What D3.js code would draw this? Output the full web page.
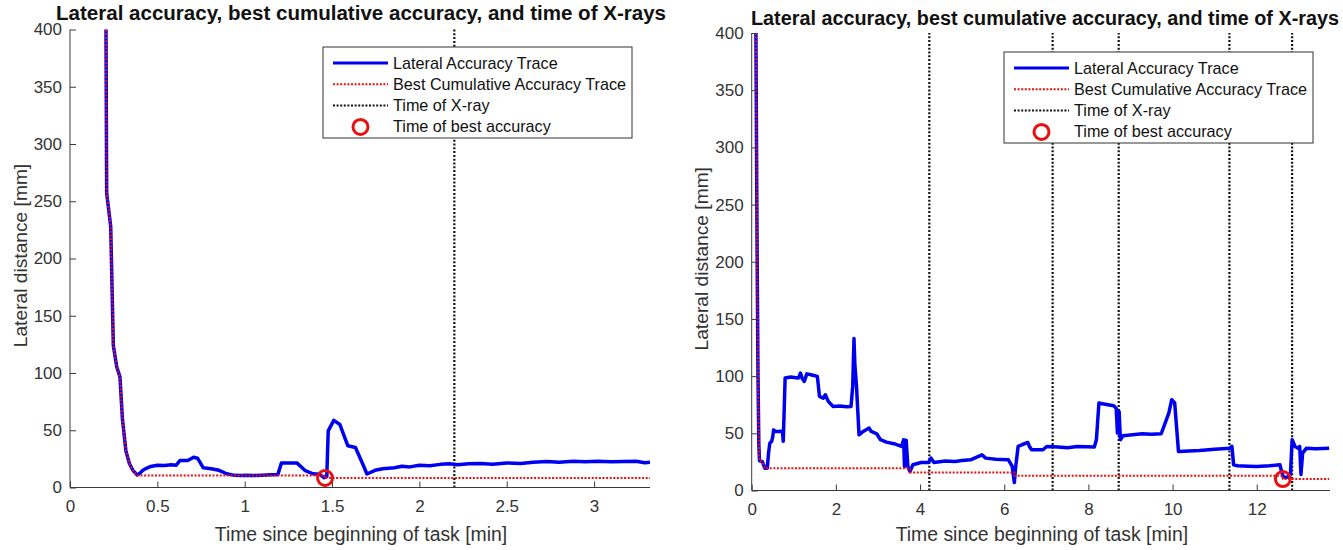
<!DOCTYPE html>
<html>
<head>
<meta charset="utf-8">
<script src="https://cdn.jsdelivr.net/npm/d3@7/dist/d3.min.js"></script>
<style>
  html, body { margin: 0; padding: 0; background: #fff; }
  svg { display: block; font-family: "Liberation Sans", Arial, sans-serif; }
</style>
</head>
<body>
<svg id="chart" width="1343" height="550"></svg>
<script>
// ---- Session A (short task) ----
const traceTimeA = [0.206, 0.21, 0.233, 0.248, 0.268, 0.286, 0.30, 0.32, 0.34, 0.36, 0.384, 0.40, 0.417, 0.44, 0.462, 0.50,
  0.54, 0.58, 0.607, 0.63, 0.674, 0.708, 0.73, 0.763, 0.808, 0.853, 0.897, 0.942, 0.98, 1.01, 1.05, 1.1, 1.15, 1.19,
  1.21, 1.25, 1.3, 1.344, 1.39, 1.43, 1.455, 1.47, 1.478, 1.51, 1.545, 1.59, 1.634, 1.667, 1.70, 1.746, 1.79, 1.857,
  1.90, 1.946, 2.0, 2.06, 2.12, 2.17, 2.22, 2.28, 2.35, 2.42, 2.5, 2.58, 2.65, 2.73, 2.8, 2.88, 2.95, 3.02, 3.1, 3.17,
  3.24, 3.29, 3.32];
const traceValA = [400, 257, 228, 124, 105, 96.6, 60, 32, 21, 15, 11, 12.5, 15, 17, 18.4, 19.5,
  19.2, 19.8, 19.4, 23.6, 23.6, 26.4, 25.6, 17.2, 16.4, 15, 12, 10.6, 10.4, 10.6, 10.5, 10.8, 11.2, 11.4,
  21.3, 21.5, 21.3, 15, 12, 11.5, 8.5, 9.6, 49.4, 58.6, 55, 36.5, 35, 23.6, 11.8, 15, 16.4, 17.2,
  18.6, 18.0, 19.4, 19.0, 20.2, 20.7, 19.8, 20.7, 21.0, 20.4, 21.5, 21.0, 22.0, 22.7, 22.0, 22.9, 22.4, 22.9, 22.5, 22.8,
  22.9, 21.6, 22.1];
const bestTimeA = [0.206, 0.21, 0.233, 0.248, 0.268, 0.286, 0.30, 0.32, 0.34, 0.36, 0.384, 1.455, 1.455, 3.32];
const bestValA = [400, 257, 228, 124, 105, 96.6, 60, 32, 21, 15, 10.4, 10.4, 8.3, 8.3];
const xrayTimesA = [2.2];
const bestPointA = [1.46, 8.3];
const xTicksA = [0, 0.5, 1, 1.5, 2, 2.5, 3];

// ---- Session B (long task) ----
const traceTimeB = [0.10, 0.13, 0.15, 0.17, 0.185, 0.25, 0.31, 0.37, 0.40, 0.43, 0.475, 0.50, 0.52, 0.565, 0.657, 0.73,
  0.75, 0.794, 0.93, 1.05, 1.11, 1.16, 1.2, 1.25, 1.31, 1.43, 1.56, 1.61, 1.70, 1.75, 1.82, 1.93, 2.1, 2.25, 2.36,
  2.40, 2.43, 2.45, 2.49, 2.55, 2.65, 2.79, 2.84, 2.97, 3.06, 3.2, 3.38, 3.56, 3.61, 3.63, 3.67, 3.71, 3.76, 3.83,
  4.02, 4.2, 4.26, 4.33, 4.6, 4.83, 5.0, 5.2, 5.47, 5.56, 5.8, 6.1, 6.19, 6.24, 6.27, 6.33, 6.42, 6.56, 6.6, 6.65,
  6.92, 7.01, 7.28, 7.5, 7.74, 8.14, 8.19, 8.25, 8.33, 8.6, 8.66, 8.69, 8.73, 8.76, 8.82, 9.05, 9.28, 9.5, 9.73,
  9.91, 9.98, 10.05, 10.1, 10.14, 10.64, 11.0, 11.36, 11.41, 11.45, 11.54, 11.8, 12.0, 12.3, 12.55, 12.59, 12.63,
  12.73, 12.8, 12.84, 12.91, 12.98, 13.02, 13.05, 13.09, 13.18, 13.4, 13.72];
const traceValB = [400, 200, 100, 40, 26, 25.4, 19.5, 19.5, 32.7, 41.4, 43, 47, 53, 51.6, 51.6, 52,
  43, 98.3, 99.2, 98.6, 98.3, 102.7, 98, 95.4, 102, 101, 99.8, 82.3, 80.8, 83.7, 77.9, 73.5, 73.8, 73.2, 73.5,
  91, 133, 111, 91, 48.7, 51.6, 54.6, 51.6, 49.6, 44.4, 42.3, 40.9, 38.5, 44.4, 21, 44, 21, 16.6, 22.5,
  24.5, 24.5, 28.3, 24.5, 25.8, 25.4, 26.2, 26.8, 31.2, 28.3, 27.4, 26.8, 21, 7, 20, 38.5, 40, 42, 38.5, 35.6,
  35.6, 38.5, 38, 37.4, 38.5, 38, 44.4, 76.5, 75.9, 74.1, 72, 50.2, 69, 44.4, 47.9, 48.8, 49.6, 49.2, 49.6,
  67.7, 79.4, 76.5, 53, 34.1, 35, 36, 37, 38.5, 22.5, 21.6, 21.2, 21, 21.6, 22.5, 16.6, 11.7,
  11.5, 14, 44.4, 38.5, 37, 38.5, 14, 32.7, 37, 36.6, 37];
const bestTimeB = [0.10, 0.13, 0.15, 0.17, 0.185, 0.25, 0.31, 3.76, 3.76, 6.24, 6.24, 12.62, 12.62, 13.72];
const bestValB = [400, 200, 100, 40, 26, 25.4, 19.5, 19.5, 15.8, 15.8, 12.8, 12.8, 10, 10];
const xrayTimesB = [4.22, 7.15, 8.72, 11.35, 12.84];
const bestPointB = [12.62, 10];
const xTicksB = [0, 2, 4, 6, 8, 10, 12];

const yTicks = [0, 50, 100, 150, 200, 250, 300, 350, 400];
const titleText = "Lateral accuracy, best cumulative accuracy, and time of X-rays";
const xLabelText = "Time since beginning of task [min]";
const yLabelText = "Lateral distance [mm]";
const legendLabels = ["Lateral Accuracy Trace", "Best Cumulative Accuracy Trace", "Time of X-ray", "Time of best accuracy"];

const svg = d3.select("#chart");
const axisColor = "#3a3a3a";
const blue = "#0000f0";
const red = "#e81010";

function drawPanel(p) {
  const x = d3.scaleLinear().domain([0, p.xMax]).range([p.left, p.right]);
  const y = d3.scaleLinear().domain([0, 400]).range([p.bottom, p.top]);
  const g = svg.append("g");
  const clipId = "clip" + p.id;
  svg.append("clipPath").attr("id", clipId)
    .append("rect").attr("x", p.left).attr("y", p.top - 1)
    .attr("width", p.right - p.left).attr("height", p.bottom - p.top + 1);

  // X-ray markers
  g.append("g").selectAll("line").data(p.xrays).join("line")
    .attr("x1", d => x(d)).attr("x2", d => x(d))
    .attr("y1", p.bottom).attr("y2", p.top)
    .attr("stroke", "#111").attr("stroke-width", 2.2)
    .attr("stroke-dasharray", "2,1.8");

  const line = d3.line().x(d => x(d[0])).y(d => y(d[1]));
  const trace = p.traceT.map((t, i) => [t, p.traceV[i]]);
  const best = p.bestT.map((t, i) => [t, p.bestV[i]]);

  g.append("path").datum(trace)
    .attr("clip-path", `url(#${clipId})`)
    .attr("d", line).attr("fill", "none")
    .attr("stroke", blue).attr("stroke-width", 3.5)
    .attr("stroke-linejoin", "round");

  g.append("path").datum(best)
    .attr("clip-path", `url(#${clipId})`)
    .attr("d", line).attr("fill", "none")
    .attr("stroke", red).attr("stroke-width", 2)
    .attr("stroke-dasharray", "2,1.6");

  g.append("circle")
    .attr("cx", x(p.bestPoint[0])).attr("cy", y(p.bestPoint[1]))
    .attr("r", 7.5).attr("fill", "none")
    .attr("stroke", red).attr("stroke-width", 3);

  // Axes (inward ticks, no box)
  const xAxis = d3.axisBottom(x).tickValues(p.xTicks).tickSize(-6).tickPadding(12)
    .tickFormat(d3.format("~g"));
  const gx = g.append("g").attr("transform", `translate(0,${p.bottom})`).call(xAxis);
  const yAxis = d3.axisLeft(y).tickValues(yTicks).tickSize(-6).tickPadding(8);
  const gy = g.append("g").attr("transform", `translate(${p.left},0)`).call(yAxis);
  [gx, gy].forEach(a => {
    a.select(".domain").attr("stroke", axisColor).attr("stroke-width", 1);
    a.selectAll(".tick line").attr("stroke", axisColor);
    a.selectAll(".tick text").attr("fill", "#333")
      .style("font-size", "17px").style("font-family", "'Liberation Sans', Arial, sans-serif");
  });
  gy.select(".domain").attr("d", `M0,${p.bottom}V${p.top}`);
  gx.select(".domain").attr("d", `M${p.left},0H${p.right}`);

  // Title and axis labels
  g.append("text").attr("x", p.titleX).attr("y", p.titleY)
    .attr("text-anchor", "middle").attr("font-weight", "bold")
    .attr("textLength", p.titleW).attr("lengthAdjust", "spacingAndGlyphs")
    .style("font-size", "19.5px").attr("fill", "#111").text(titleText);
  g.append("text").attr("x", (p.left + p.right) / 2 + 1).attr("y", 541)
    .attr("text-anchor", "middle").style("font-size", "19.4px")
    .attr("fill", "#333").text(xLabelText);
  g.append("text")
    .attr("transform", `translate(${p.yLabelX},${(p.top + p.bottom) / 2 - 3}) rotate(-90)`)
    .attr("text-anchor", "middle").style("font-size", "19.2px")
    .attr("fill", "#333").text(yLabelText);

  // Legend
  const L = p.legend;
  const lg = g.append("g").attr("transform", `translate(${L.x},${L.y})`);
  lg.append("rect").attr("width", L.w).attr("height", L.h)
    .attr("fill", "#fff").attr("stroke", "#333").attr("stroke-width", 1);
  const rowH = 21.3;
  legendLabels.forEach((lab, i) => {
    const cy = 16 + i * rowH;
    if (i === 0) {
      lg.append("line").attr("x1", 10).attr("x2", 65).attr("y1", cy).attr("y2", cy)
        .attr("stroke", blue).attr("stroke-width", 3);
    } else if (i === 1 || i === 2) {
      lg.append("line").attr("x1", 10).attr("x2", 65).attr("y1", cy).attr("y2", cy)
        .attr("stroke", i === 1 ? red : "#111").attr("stroke-width", 2)
        .attr("stroke-dasharray", "2,1.6");
    } else {
      lg.append("circle").attr("cx", 37.5).attr("cy", cy).attr("r", 7.5)
        .attr("fill", "none").attr("stroke", red).attr("stroke-width", 3);
    }
    lg.append("text").attr("x", 70).attr("y", cy + 5.5)
      .style("font-size", "16.2px").attr("fill", "#111").text(lab);
  });
}

drawPanel({
  id: "A", xMax: 3.32, left: 70, right: 650, top: 29.5, bottom: 487.5,
  titleX: 361, titleY: 20, titleW: 610, yLabelX: 27,
  traceT: traceTimeA, traceV: traceValA, bestT: bestTimeA, bestV: bestValA,
  xrays: xrayTimesA, bestPoint: bestPointA, xTicks: xTicksA,
  legend: { x: 323, y: 47, w: 309, h: 91 }
});
drawPanel({
  id: "B", xMax: 13.74, left: 751.7, right: 1330, top: 33, bottom: 490.5,
  titleX: 1045, titleY: 25, titleW: 588, yLabelX: 708,
  traceT: traceTimeB, traceV: traceValB, bestT: bestTimeB, bestV: bestValB,
  xrays: xrayTimesB, bestPoint: bestPointB, xTicks: xTicksB,
  legend: { x: 1004, y: 52, w: 309, h: 91 }
});
</script>
</body>
</html>
